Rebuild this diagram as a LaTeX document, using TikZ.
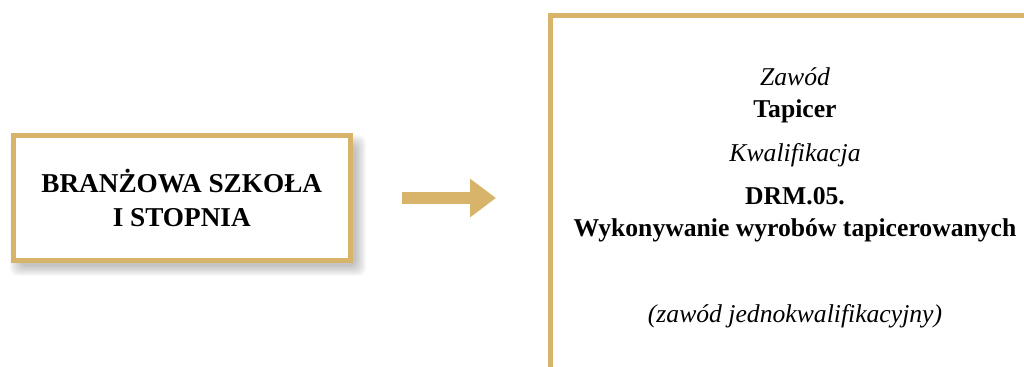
\documentclass[tikz,border=0pt]{standalone}
\usepackage{fontspec}
\setmainfont{Liberation Serif}
\usetikzlibrary{arrows.meta}
\definecolor{zloty}{HTML}{D8B46A}
\begin{document}
\begin{tikzpicture}[x=0.02cm,y=-0.02cm,
    ramka/.style={draw=zloty,line width=2.83pt},
    tytul/.style={font=\fontsize{14.6}{18}\selectfont\bfseries,anchor=base,inner sep=0pt},
    opis/.style={font=\fontsize{14.6}{18}\selectfont\itshape,anchor=base,inner sep=0pt}]
  \useasboundingbox (0,0) rectangle (1024,367);
  \foreach \d in {0,...,10}
    \fill[black,opacity=0.022,rounded corners=4pt] (20-\d,145-\d) rectangle (356+\d,266+\d);
  \node[ramka,fill=white,minimum width=6.75cm,minimum height=2.5cm,align=center,
    font=\fontsize{15.5}{19.3}\selectfont\bfseries] (szkola) at (181.75,198.2)
    {BRANŻOWA SZKOŁA\\I STOPNIA};
  \coordinate (pocz) at (402,198);
  \coordinate (kon) at (496,198);
  \draw[zloty,line width=6.8pt,-{Triangle[length=0.52cm,width=0.74cm]}] (pocz) -- (kon);
  \draw[ramka] (550.5,400) |- (1060,15.5);
  \node[opis] (zawod) at (795,86) {Zawód};
  \node[tytul] (tapicer) at (795,118) {Tapicer};
  \node[opis] (kwalifikacja) at (795,162) {Kwalifikacja};
  \node[tytul] (symbol) at (795,205) {DRM.05.};
  \node[tytul] (nazwa) at (795,237) {Wykonywanie wyrobów tapicerowanych};
  \node[opis] (uwaga) at (795,323) {(zawód jednokwalifikacyjny)};
\end{tikzpicture}
\end{document}
